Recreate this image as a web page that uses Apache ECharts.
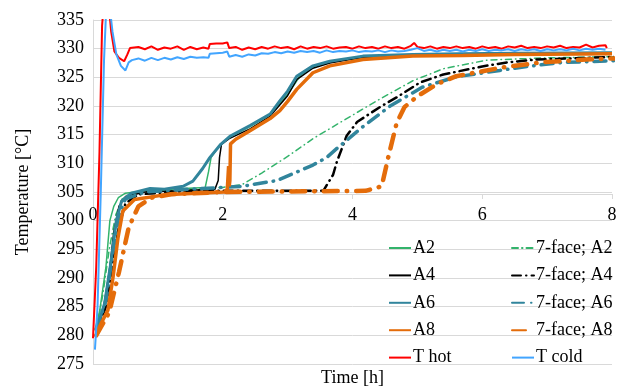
<!DOCTYPE html>
<html>
<head>
    <meta charset="UTF-8">
    <title>Temperature vs time</title>
    <style>
        html, body {
            height: 100%;
            width: 100%;
            margin: 0;
            padding: 0;
        }
    </style>
    <script src="https://cdn.jsdelivr.net/npm/echarts@6/dist/echarts.min.js"></script>
</head>
<body>
<div id="main" style="width: 625px; height: 392px;"></div>

<script type="text/javascript">
    // x axis ticks [h], y axis ticks [°C]
    var xTicks = [0, 2, 4, 6, 8];
    var yMin = 275, yMax = 335, yStep = 5;

    // [time h, temperature °C]
    var a2 = [[0.03, 281], [0.1, 284], [0.2, 292], [0.26, 300], [0.32, 302.5], [0.39, 304], [0.5, 304.8],
        [0.8, 305.2], [1.4, 305.6], [1.73, 305.8], [1.78, 308.5], [1.82, 311], [1.96, 313.3], [2.1, 314.5],
        [2.42, 316.4], [2.73, 318.5], [3.0, 322], [3.2, 325.4], [3.4, 326.8], [3.65, 327.7], [4.2, 328.5],
        [5.0, 328.9], [6.0, 329], [7.0, 329.1], [8.0, 329.1]];
    var a4 = [[0.05, 280], [0.15, 284], [0.25, 291], [0.32, 298], [0.4, 302.5], [0.5, 304.2], [0.8, 305],
        [1.5, 305.3], [1.88, 305.5], [1.93, 307], [1.95, 311], [1.98, 313.3], [2.1, 314.3], [2.42, 316],
        [2.73, 318.2], [3.0, 321.8], [3.14, 324.6], [3.39, 326.6], [3.65, 327.5], [4.16, 328.5],
        [4.93, 328.9], [6.0, 329.1], [8.0, 329.2]];
    var a6 = [[0.05, 281], [0.18, 285.6], [0.28, 293], [0.36, 300], [0.44, 303.4], [0.59, 304.8],
        [0.88, 305.6], [1.1, 305.5], [1.39, 306], [1.54, 306.9], [1.69, 309.1], [1.8, 311], [1.96, 313.2],
        [2.11, 314.7], [2.42, 316.6], [2.73, 318.6], [2.88, 320.9], [3.0, 322.6], [3.14, 325.2], [3.39, 327],
        [3.65, 327.8], [4.16, 328.7], [4.93, 329], [5.65, 329.1], [6.5, 329.2], [8.0, 329.3]];
    var a8 = [[0.05, 280.4], [0.23, 284.4], [0.31, 290.2], [0.385, 297], [0.46, 301.7], [0.64, 303.7],
        [1.1, 304.5], [1.6, 304.8], [2.03, 305], [2.07, 305.5], [2.09, 309.5], [2.1, 306], [2.11, 307],
        [2.12, 313.4], [2.2, 314.2], [2.42, 315.7], [2.73, 317.8], [2.88, 319.2], [3.0, 320.8], [3.14, 322.9],
        [3.39, 325.8], [3.65, 327], [4.16, 328.1], [4.93, 328.7], [5.7, 328.8], [6.5, 329], [8.0, 329.1]];

    var f7a2 = [[0.05, 281], [0.15, 287], [0.25, 295], [0.35, 301], [0.45, 303.8], [0.7, 305], [1.5, 305.5],
        [2.0, 305.8], [2.3, 306.3], [2.6, 308.3], [3.0, 311.2], [3.39, 314.3], [3.91, 317.8], [4.42, 321.2],
        [4.93, 324.4], [5.4, 326.5], [6.07, 328], [7.0, 328.4], [8.05, 328.6]];
    var f7a4 = [[0.05, 280.5], [0.2, 285], [0.3, 292], [0.4, 299], [0.5, 303], [0.7, 304.6], [1.5, 305.2],
        [3.55, 305.2], [3.7, 308], [3.76, 310.3], [3.91, 314.8], [4.07, 317.2], [4.42, 319.8], [4.68, 321.5],
        [5.04, 324.1], [5.4, 325.5], [6.0, 326.9], [6.38, 327.6], [6.84, 328.1], [7.6, 328.4], [8.05, 328.6]];
    var f7a6 = [[0.05, 281], [0.2, 286], [0.3, 294], [0.4, 301], [0.5, 303.8], [0.8, 305], [1.5, 305.5],
        [2.0, 305.8], [2.3, 306], [2.84, 307], [3.39, 309.7], [3.6, 311], [3.76, 312.6], [4.16, 316.4],
        [4.58, 320], [5.08, 323.3], [5.6, 325.1], [6.27, 326.2], [6.69, 326.9], [7.24, 327.6], [8.05, 327.9]];
    var f7a8 = [[0.05, 280], [0.25, 284], [0.4, 291], [0.55, 298.8], [0.7, 302.5], [0.9, 304], [1.2, 304.6],
        [2.0, 305], [3.0, 305.1], [4.2, 305.2], [4.45, 306], [4.55, 311], [4.68, 317], [4.8, 319.8],
        [5.0, 321.7], [5.3, 323.8], [5.6, 325.2], [6.3, 326.7], [6.9, 327.6], [7.6, 328.1], [8.05, 328.3]];

    var tHot = [[0, 279.5], [0.05, 292], [0.1, 312], [0.14, 334], [0.18, 340], [0.24, 338], [0.28, 333],
        [0.33, 329.5], [0.4, 328.4], [0.48, 327.8], [0.53, 329], [0.57, 330.1], [0.6, 329.8], [0.7, 330.3],
        [0.8, 329.9], [0.9, 330.4], [1.0, 329.8], [1.1, 330.2], [1.2, 330.0], [1.3, 330.4], [1.4, 329.8],
        [1.5, 330.3], [1.6, 329.9], [1.7, 330.2], [1.78, 330.0], [1.8, 330.8], [1.9, 330.9], [2.0, 330.9],
        [2.07, 331.1], [2.1, 330.1], [2.2, 330.3], [2.3, 329.8], [2.4, 330.2], [2.5, 329.9], [2.6, 330.3],
        [2.7, 330.0], [2.8, 330.4], [2.9, 330.1], [3.0, 330.3], [3.1, 329.9], [3.2, 330.4], [3.3, 330.0],
        [3.4, 330.3], [3.5, 330.1], [3.6, 330.4], [3.7, 330.0], [3.8, 330.2], [3.9, 330.3], [4.0, 330.0],
        [4.1, 330.4], [4.2, 330.1], [4.3, 330.3], [4.4, 330.0], [4.5, 330.4], [4.6, 330.1], [4.7, 330.3],
        [4.8, 330.0], [4.9, 330.5], [4.95, 331.0], [5.0, 330.3], [5.1, 330.1], [5.2, 330.4], [5.3, 330.0],
        [5.4, 330.3], [5.5, 330.1], [5.6, 330.4], [5.7, 330.1], [5.8, 330.3], [5.9, 330.0], [6.0, 330.4],
        [6.1, 330.1], [6.2, 330.3], [6.3, 330.0], [6.4, 330.4], [6.5, 330.2], [6.6, 330.5], [6.7, 330.1],
        [6.8, 330.3], [6.9, 330.1], [7.0, 330.4], [7.1, 330.2], [7.2, 330.5], [7.3, 330.1], [7.4, 330.3],
        [7.5, 330.2], [7.6, 330.7], [7.7, 330.2], [7.8, 330.5], [7.9, 330.6], [7.92, 330.1]];
    var tCold = [[0.03, 277.5], [0.07, 285], [0.12, 305], [0.17, 328], [0.2, 336], [0.26, 337], [0.3, 333],
        [0.36, 329], [0.43, 327], [0.5, 326.2], [0.55, 327.6], [0.6, 328.0], [0.7, 328.3], [0.8, 327.9],
        [0.9, 328.4], [1.0, 328.0], [1.1, 328.4], [1.2, 328.1], [1.3, 328.5], [1.4, 328.2], [1.5, 328.6],
        [1.6, 328.4], [1.7, 328.5], [1.78, 328.4], [1.8, 329.1], [1.9, 329.2], [2.0, 329.3], [2.07, 329.5],
        [2.1, 328.6], [2.2, 328.9], [2.3, 328.6], [2.4, 329.0], [2.5, 328.8], [2.6, 329.2], [2.7, 329.1],
        [2.8, 329.4], [2.9, 329.2], [3.0, 329.5], [3.1, 329.3], [3.2, 329.6], [3.3, 329.4], [3.4, 329.6],
        [3.5, 329.3], [3.6, 329.7], [3.7, 329.4], [3.8, 329.6], [3.9, 329.5], [4.0, 329.7], [4.1, 329.4],
        [4.2, 329.6], [4.3, 329.5], [4.4, 329.7], [4.5, 329.4], [4.6, 329.7], [4.7, 329.5], [4.8, 329.6],
        [4.9, 329.8], [5.0, 330.1], [5.1, 329.6], [5.2, 329.8], [5.3, 329.5], [5.4, 329.8], [5.5, 329.6],
        [5.6, 329.8], [5.7, 329.5], [5.8, 329.8], [5.9, 329.6], [6.0, 329.9], [6.1, 329.6], [6.2, 329.8],
        [6.3, 329.7], [6.4, 329.9], [6.5, 329.6], [6.6, 329.9], [6.7, 329.7], [6.8, 329.9], [6.9, 329.6],
        [7.0, 329.9], [7.1, 329.7], [7.2, 329.9], [7.3, 329.7], [7.4, 330.0], [7.5, 329.7], [7.6, 330.0],
        [7.7, 329.8], [7.8, 330.0], [7.9, 329.8]];

    var names = ['A2', '7-face; A2', 'A4', '7-face; A4', 'A6', '7-face; A6', 'A8', '7-face; A8', 'T hot', 'T cold'];
    var font = 'Liberation Serif';

    function line(name, data, color, width, dash) {
        return {
            name: name,
            type: 'line',
            data: data,
            showSymbol: false,
            symbol: 'none',
            clip: true,
            lineStyle: {color: color, width: width, type: dash || 'solid', cap: dash ? 'round' : 'butt'},
            itemStyle: {color: color},
            emphasis: {disabled: true}
        };
    }

    function createChart() {
        var myChart = echarts.init(document.getElementById('main'));
        var legendCommon = {
            orient: 'vertical',
            top: 233,
            itemWidth: 22,
            itemHeight: 14,
            itemGap: 7.4,
            selectedMode: false,
            // hide the round marker, keep only the line sample
            itemStyle: {opacity: 0},
            textStyle: {fontFamily: font, fontSize: 18, lineHeight: 20, color: '#000', padding: [0, 0, 0, -3]}
        };
        var option = {
            animation: false,
            backgroundColor: '#fff',
            legend: [
                Object.assign({left: 383, data: [names[0], names[2], names[4], names[6], names[8]]}, legendCommon),
                Object.assign({left: 506, data: [names[1], names[3], names[5], names[7], names[9]]}, legendCommon)
            ],
            grid: [
                {left: 93, right: 13, top: 20, bottom: 24},
                // upper grid only used to put the time axis at 305 °C
                {left: 93, right: 13, top: 20, height: 174}
            ],
            xAxis: [{
                type: 'value',
                gridIndex: 0,
                min: 0,
                max: 8,
                interval: 2,
                name: 'Time [h]',
                nameLocation: 'middle',
                nameGap: 5,
                nameTextStyle: {fontFamily: font, fontSize: 18, color: '#000'},
                axisLine: {show: false},
                axisTick: {show: false},
                axisLabel: {show: false},
                splitLine: {show: false}
            }, {
                type: 'value',
                gridIndex: 1,
                min: xTicks[0],
                max: xTicks[xTicks.length - 1],
                interval: xTicks[1] - xTicks[0],
                axisLine: {show: true, lineStyle: {color: '#d9d9d9'}},
                axisTick: {show: true, length: 5, lineStyle: {color: '#d9d9d9'}},
                axisLabel: {fontFamily: font, fontSize: 18, color: '#000', margin: 12},
                splitLine: {show: false}
            }],
            yAxis: [{
                type: 'value',
                gridIndex: 0,
                min: yMin,
                max: yMax,
                interval: yStep,
                name: 'Temperature [°C]',
                nameLocation: 'middle',
                nameGap: 61,
                nameTextStyle: {fontFamily: font, fontSize: 18, color: '#000'},
                axisLine: {show: true, lineStyle: {color: '#d9d9d9'}},
                axisTick: {show: false},
                axisLabel: {fontFamily: font, fontSize: 18, color: '#000', margin: 9},
                splitLine: {show: true, lineStyle: {color: '#d9d9d9', width: 1}}
            }, {
                type: 'value',
                gridIndex: 1,
                min: 0,
                max: 1,
                show: false
            }],
            series: [
                line(names[0], a2, '#33b36b', 1.5),
                line(names[1], f7a2, '#33b36b', 1.5, [6, 4, 0.5, 4]),
                line(names[2], a4, '#000000', 1.5),
                line(names[3], f7a4, '#000000', 2.5, [9, 5, 0.5, 5]),
                line(names[4], a6, '#31859c', 3),
                line(names[5], f7a6, '#31859c', 3.5, [12, 7, 0.5, 7]),
                line(names[6], a8, '#e46c0a', 3.5),
                line(names[7], f7a8, '#e46c0a', 4.5, [14, 9, 0.5, 9]),
                line(names[8], tHot, '#ff0000', 2),
                line(names[9], tCold, '#42a5ff', 2)
            ]
        };
        myChart.setOption(option);
    }

    createChart();
</script>
</body>
</html>
